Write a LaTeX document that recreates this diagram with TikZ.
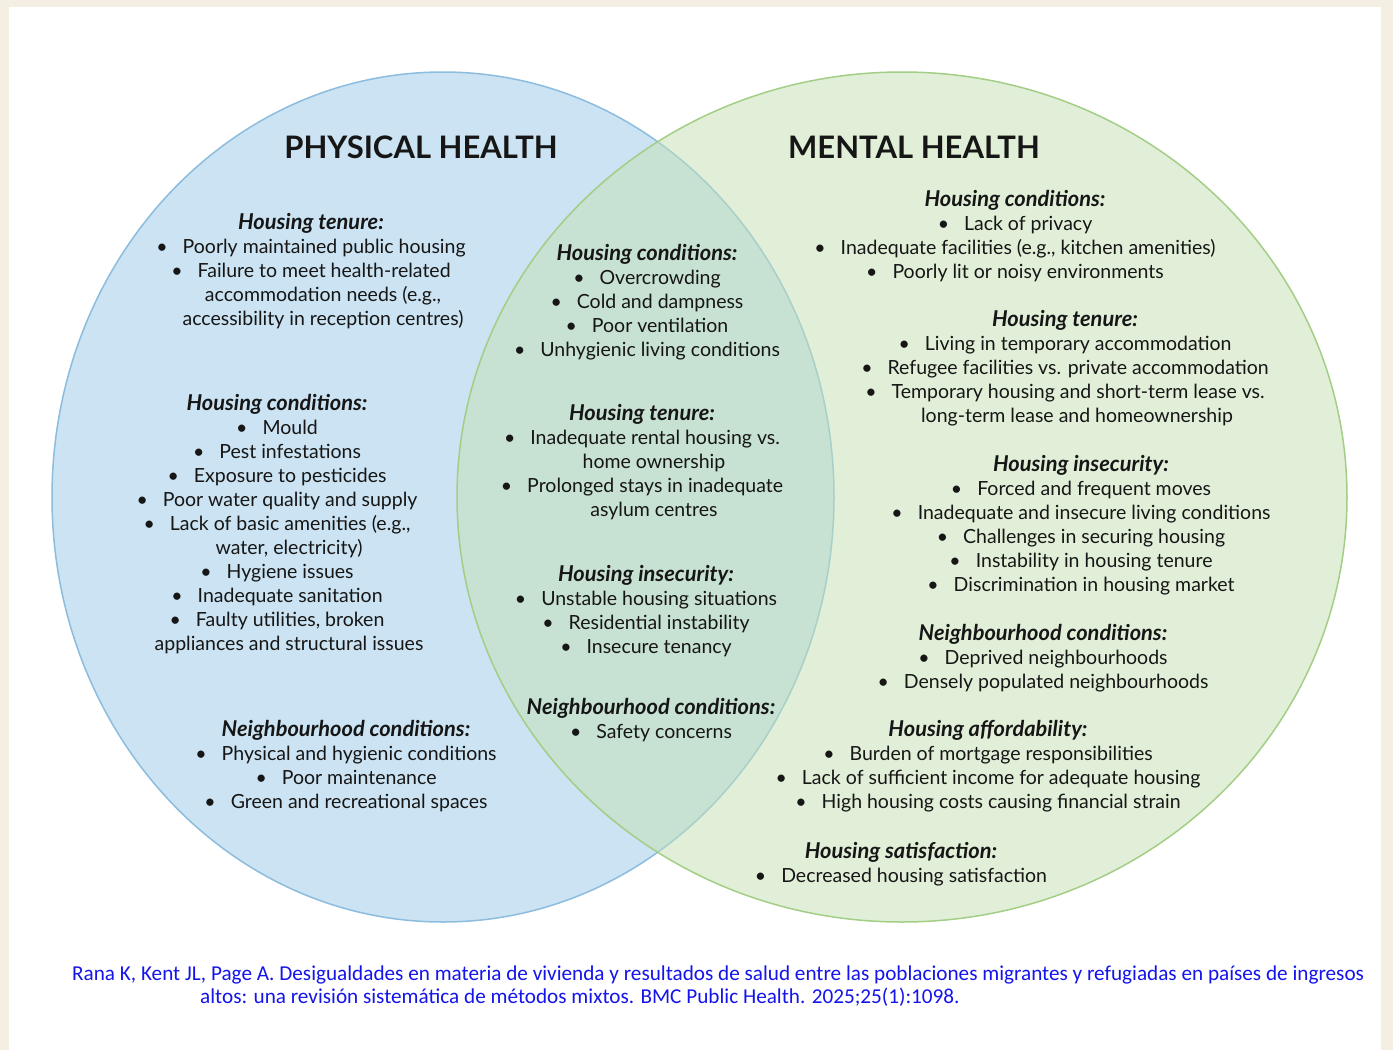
\documentclass[tikz,border=0pt]{standalone}
\usepackage{fontspec}
\setmainfont{Lato}
\newfontfamily\citefont{Carlito}
\definecolor{bg}{RGB}{244,238,227}
\definecolor{physfill}{RGB}{153,201,231}
\definecolor{physline}{RGB}{140,189,222}
\definecolor{mentfill}{RGB}{197,225,179}
\definecolor{mentline}{RGB}{163,206,133}
\definecolor{txt}{RGB}{22,22,22}
\definecolor{citeblue}{RGB}{20,20,235}
\newcommand{\itm}{\textbullet\hspace{15pt}}
\newcommand{\wrp}{\hspace*{24pt}}
\newcommand{\hd}[1]{{\fontsize{21.8}{24}\selectfont\bfseries\itshape #1}}

\begin{document}
\begin{tikzpicture}[x=1pt,y=-1pt]
        \tikzstyle{every node}=[font=\fontsize{19.5}{24}\selectfont, text=txt, inner sep=0pt, align=center, anchor=north]
        \tikzstyle{title}=[font=\fontsize{31}{32}\selectfont\bfseries, anchor=center]
        \tikzstyle{cite}=[font=\citefont\fontsize{21.2}{22}\selectfont, text=citeblue, anchor=west]
        \fill[bg] (0,0) rectangle (1393,1050);
        \fill[white] (9,7) rectangle (1381,1050);
        \useasboundingbox (0,0) rectangle (1393,1050);

        \begin{scope}
           \filldraw[fill=physfill, fill opacity=0.5, draw=physline, line width=1.5pt] (443,497) ellipse [x radius=391, y radius=425];
           \filldraw[fill=mentfill, fill opacity=0.5, draw=mentline, line width=1.5pt] (902,497) ellipse [x radius=445, y radius=425];
        \end{scope}

        \node[title] (phys) at (421,147) {PHYSICAL HEALTH};
        \node[title] (ment) at (914,147) {MENTAL HEALTH};

        \node (ptenure) at (311,213) {\hd{Housing tenure:}\\
            \itm Poorly maintained public housing\\
            \itm Failure to meet health-related\\
            \wrp accommodation needs (e.g.,\\
            \wrp accessibility in reception centres)};
        \node (pcond) at (277,394) {\hd{Housing conditions:}\\
            \itm Mould\\
            \itm Pest infestations\\
            \itm Exposure to pesticides\\
            \itm Poor water quality and supply\\
            \itm Lack of basic amenities (e.g.,\\
            \wrp water, electricity)\\
            \itm Hygiene issues\\
            \itm Inadequate sanitation\\
            \itm Faulty utilities, broken\\
            \wrp appliances and structural issues};
        \node (pneigh) at (346,720) {\hd{Neighbourhood conditions:}\\
            \itm Physical and hygienic conditions\\
            \itm Poor maintenance\\
            \itm Green and recreational spaces};

        \node (bcond) at (647,244) {\hd{Housing conditions:}\\
            \itm Overcrowding\\
            \itm Cold and dampness\\
            \itm Poor ventilation\\
            \itm Unhygienic living conditions};
        \node (btenure) at (642,404) {\hd{Housing tenure:}\\
            \itm Inadequate rental housing vs.\\
            \wrp home ownership\\
            \itm Prolonged stays in inadequate\\
            \wrp asylum centres};
        \node (binsec) at (646,565) {\hd{Housing insecurity:}\\
            \itm Unstable housing situations\\
            \itm Residential instability\\
            \itm Insecure tenancy};
        \node (bneigh) at (651,698) {\hd{Neighbourhood conditions:}\\
            \itm Safety concerns};

        \node (mcond) at (1015,190) {\hd{Housing conditions:}\\
            \itm Lack of privacy\\
            \itm Inadequate facilities (e.g., kitchen amenities)\\
            \itm Poorly lit or noisy environments};
        \node (mtenure) at (1065,310) {\hd{Housing tenure:}\\
            \itm Living in temporary accommodation\\
            \itm Refugee facilities vs. private accommodation\\
            \itm Temporary housing and short-term lease vs.\\
            \wrp long-term lease and homeownership};
        \node (minsec) at (1081,455) {\hd{Housing insecurity:}\\
            \itm Forced and frequent moves\\
            \itm Inadequate and insecure living conditions\\
            \itm Challenges in securing housing\\
            \itm Instability in housing tenure\\
            \itm Discrimination in housing market};
        \node (mneigh) at (1043,624) {\hd{Neighbourhood conditions:}\\
            \itm Deprived neighbourhoods\\
            \itm Densely populated neighbourhoods};
        \node (mafford) at (988,720) {\hd{Housing affordability:}\\
            \itm Burden of mortgage responsibilities\\
            \itm Lack of sufficient income for adequate housing\\
            \itm High housing costs causing financial strain};
        \node (msatis) at (901,842) {\hd{Housing satisfaction:}\\
            \itm Decreased housing satisfaction};

        \node[cite] (ref1) at (72,975) {Rana K, Kent JL, Page A. Desigualdades en materia de vivienda y resultados de salud entre las poblaciones migrantes y refugiadas en países de ingresos};
        \node[cite] (ref2) at (200,997) {altos: una revisión sistemática de métodos mixtos. BMC Public Health. 2025;25(1):1098.};
\end{tikzpicture}
\end{document}
